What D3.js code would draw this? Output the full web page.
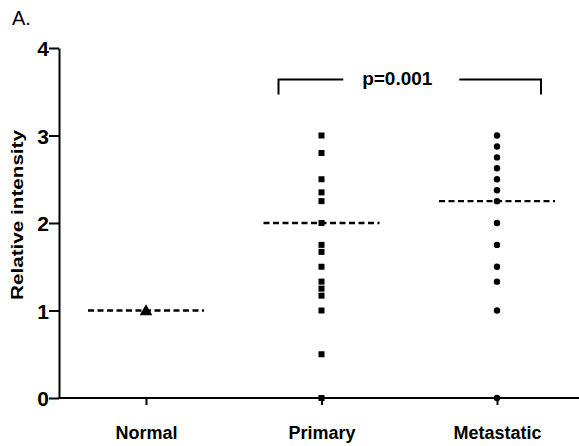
<!DOCTYPE html>
<html>

<head>
  <meta charset="utf-8" />
  <title>Relative intensity</title>
  <style>
    body {
      margin: 0;
      background: #fff;
    }

    svg text {
      font-family: "Liberation Sans", Arial, sans-serif;
      fill: #000;
    }

    .axis path,
    .axis line {
      stroke: #000;
      stroke-width: 2px;
    }

    .axis text {
      font-weight: bold;
    }

    .median {
      stroke: #000;
      stroke-width: 2.4px;
      stroke-dasharray: 6 3.5;
    }

    .bracket {
      fill: none;
      stroke: #000;
      stroke-width: 2px;
    }
  </style>
  <script src="https://cdnjs.cloudflare.com/ajax/libs/d3/7.8.5/d3.min.js"></script>
</head>

<body>
  <div id="chartArea"></div>
  <script>
    // data
    var categories = ['Normal', 'Primary', 'Metastatic'];
    var normalValues = [1];
    var primaryValues = [3.0, 2.8, 2.5, 2.35, 2.25, 2.0, 1.75, 1.67, 1.5, 1.33, 1.25, 1.17, 1.0, 0.5, 0];
    var metastaticValues = [3.0, 2.875, 2.75, 2.625, 2.5, 2.375, 2.25, 2.0, 1.75, 1.5, 1.33, 1.0, 0];
    var medians = [1, 2, 2.25];
    var yTicks = [0, 1, 2, 3, 4];
    var pLabel = 'p=0.001';
    var yLabel = 'Relative intensity';

    var W = 579, H = 446;

    var svg = d3.select('#chartArea')
      .append('svg')
      .attr('width', W)
      .attr('height', H);

    var x = d3.scalePoint()
      .domain(categories)
      .range([146, 497]);

    var y = d3.scaleLinear()
      .domain([0, 4])
      .range([398, 48]);

    var halfW = 58;

    // panel letter
    svg.append('text')
      .attr('x', 12)
      .attr('y', 25)
      .style('font-size', '20px')
      .text('A.');

    // y axis
    var yAxis = svg.append('g')
      .attr('class', 'axis')
      .attr('transform', 'translate(59,0)')
      .call(d3.axisLeft(y).tickValues(yTicks).tickFormat(d3.format('d')).tickSize(10).tickSizeOuter(0));
    yAxis.selectAll('text')
      .style('font-size', '21px')
      .attr('x', -10)
      .attr('dy', '0.36em');

    // x axis
    var xAxis = svg.append('g')
      .attr('class', 'axis')
      .attr('transform', 'translate(0,398)')
      .call(d3.axisBottom(x).tickSize(7).tickSizeOuter(0));
    xAxis.select('.domain').attr('d', 'M58,0H' + W);
    xAxis.selectAll('text')
      .style('font-size', '18px')
      .attr('y', 28)
      .attr('dy', '0.71em');

    // y label
    svg.append('text')
      .attr('transform', 'translate(23,' + (y(2) - 8) + ') rotate(-90)')
      .attr('text-anchor', 'middle')
      .attr('textLength', 170)
      .attr('lengthAdjust', 'spacingAndGlyphs')
      .style('font-size', '16px')
      .style('font-weight', 'bold')
      .text(yLabel);

    // median lines
    svg.selectAll('.median')
      .data(categories)
      .enter()
      .append('line')
      .attr('class', 'median')
      .attr('x1', d => x(d) - halfW)
      .attr('x2', d => x(d) + halfW)
      .attr('y1', (d, i) => y(medians[i]))
      .attr('y2', (d, i) => y(medians[i]));

    // Normal: triangles
    svg.selectAll('.tri')
      .data(normalValues)
      .enter()
      .append('path')
      .attr('class', 'tri')
      .attr('d', d3.symbol().type(d3.symbolTriangle).size(70))
      .attr('transform', d => 'translate(' + x('Normal') + ',' + (y(d) + 1) + ')');

    // Primary: squares
    svg.selectAll('.sq')
      .data(primaryValues)
      .enter()
      .append('rect')
      .attr('class', 'sq')
      .attr('x', x('Primary') - 3)
      .attr('y', d => y(d) - 3)
      .attr('width', 6)
      .attr('height', 6);

    // Metastatic: circles
    svg.selectAll('.dot')
      .data(metastaticValues)
      .enter()
      .append('circle')
      .attr('class', 'dot')
      .attr('cx', x('Metastatic'))
      .attr('cy', d => y(d))
      .attr('r', 3.2);

    // significance bracket
    var bTop = y(3.64), bBot = y(3.47);
    var bx1 = x('Primary') - 43, bx2 = x('Metastatic') + 44;
    var mid = (x('Primary') + x('Metastatic')) / 2;
    svg.append('path')
      .attr('class', 'bracket')
      .attr('d', 'M' + bx1 + ',' + bBot + 'V' + bTop + 'H' + (mid - 66));
    svg.append('path')
      .attr('class', 'bracket')
      .attr('d', 'M' + (mid + 50) + ',' + bTop + 'H' + bx2 + 'V' + bBot);
    svg.append('text')
      .attr('x', mid - 12)
      .attr('y', bTop + 5)
      .attr('text-anchor', 'middle')
      .style('font-size', '19px')
      .style('font-weight', 'bold')
      .text(pLabel);
  </script>
</body>

</html>
